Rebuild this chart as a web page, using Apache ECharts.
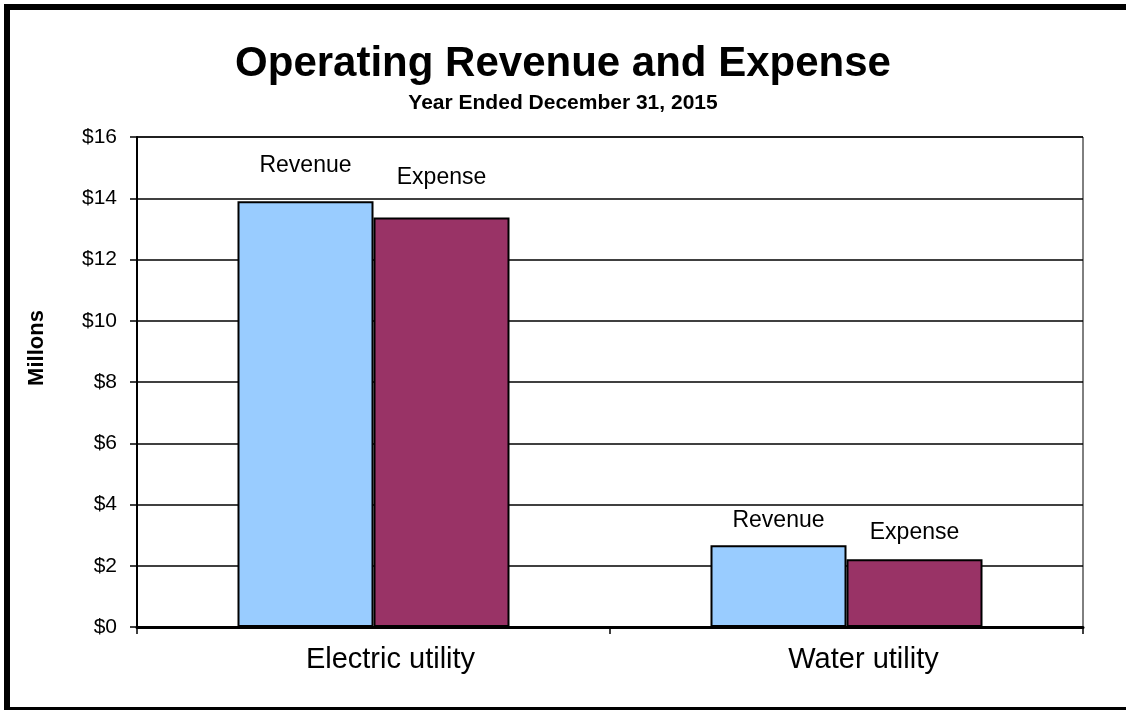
<!DOCTYPE html>
<html>
<head>
<meta charset="utf-8">
<script src="https://cdn.jsdelivr.net/npm/echarts@6/dist/echarts.min.js"></script>
<style>
html,body{margin:0;padding:0;background:#fff;}
#c{width:1126px;height:710px;}
</style>
</head>
<body>
<div id="c"></div>
<script>
// ---- data ----
const categories = ['Electric utility', 'Water utility'];
const revenue = [13.9, 2.67];
const expense = [13.37, 2.21];
const yTicks = [0, 2, 4, 6, 8, 10, 12, 14, 16];

// ---- styling ----
const FONT = '"Liberation Sans", Arial, Helvetica, sans-serif';
const labelGap = { Revenue: [24, 13], Expense: [28, 15] };

function items(values, name) {
  return values.map((v, i) => ({
    value: v,
    label: { distance: labelGap[name][i] }
  }));
}

const chart = echarts.init(document.getElementById('c'), null, { renderer: 'canvas' });

chart.setOption({
  backgroundColor: '#ffffff',
  animation: false,
  textStyle: { fontFamily: FONT, color: '#000' },
  title: [
    {
      text: 'Operating Revenue and Expense',
      left: 'center', top: 38,
      textStyle: { fontFamily: FONT, fontSize: 42, fontWeight: 'bold', color: '#000' }
    },
    {
      text: 'Year Ended December 31, 2015',
      left: 'center', top: 88,
      textStyle: { fontFamily: FONT, fontSize: 21, fontWeight: 'bold', color: '#000' }
    }
  ],
  grid: {
    left: 137, right: 43, top: 137, bottom: 83,
    show: true, borderColor: '#000', borderWidth: 1, backgroundColor: 'transparent'
  },
  xAxis: {
    type: 'category',
    data: categories,
    boundaryGap: true,
    axisLine: { lineStyle: { color: '#000', width: 3 } },
    axisTick: { show: true, length: 7, lineStyle: { color: '#000', width: 1.5 } },
    axisLabel: {
      fontFamily: FONT, fontSize: 29, color: '#000', margin: 18,
      padding: [0, 0, 0, 34]
    }
  },
  yAxis: {
    type: 'value',
    min: yTicks[0], max: yTicks[yTicks.length - 1], interval: 2,
    name: 'Millons',
    nameLocation: 'middle',
    nameRotate: 90,
    nameGap: 89,
    nameTextStyle: { fontFamily: FONT, fontSize: 22, fontWeight: 'bold', color: '#000', padding: [0, 0, 0, 68] },
    axisLine: { show: true, lineStyle: { color: '#000', width: 2 } },
    axisTick: { show: true, length: 7, lineStyle: { color: '#000', width: 1.5 } },
    axisLabel: { fontFamily: FONT, fontSize: 21, color: '#000', margin: 20, formatter: v => '$' + v },
    splitLine: { show: true, lineStyle: { color: '#000', width: 1.5 } }
  },
  series: [
    {
      name: 'Revenue', type: 'bar', barWidth: 136, barGap: '0%',
      data: items(revenue, 'Revenue'),
      itemStyle: { color: '#99CCFF', borderColor: '#000', borderWidth: 2 },
      label: { show: true, position: 'top', formatter: '{a}', fontFamily: FONT, fontSize: 23, color: '#000' }
    },
    {
      name: 'Expense', type: 'bar', barWidth: 136, barGap: '0%',
      data: items(expense, 'Expense'),
      itemStyle: { color: '#993366', borderColor: '#000', borderWidth: 2 },
      label: { show: true, position: 'top', formatter: '{a}', fontFamily: FONT, fontSize: 23, color: '#000' }
    }
  ],
  graphic: [
    { type: 'line', shape: { x1: 4, y1: 7, x2: 1126, y2: 7 }, style: { stroke: '#000', lineWidth: 6 }, z: 100 },
    { type: 'line', shape: { x1: 7, y1: 4, x2: 7, y2: 710 }, style: { stroke: '#000', lineWidth: 6 }, z: 100 },
    { type: 'line', shape: { x1: 4, y1: 709, x2: 1126, y2: 709 }, style: { stroke: '#000', lineWidth: 4 }, z: 100 }
  ]
});
</script>
</body>
</html>
